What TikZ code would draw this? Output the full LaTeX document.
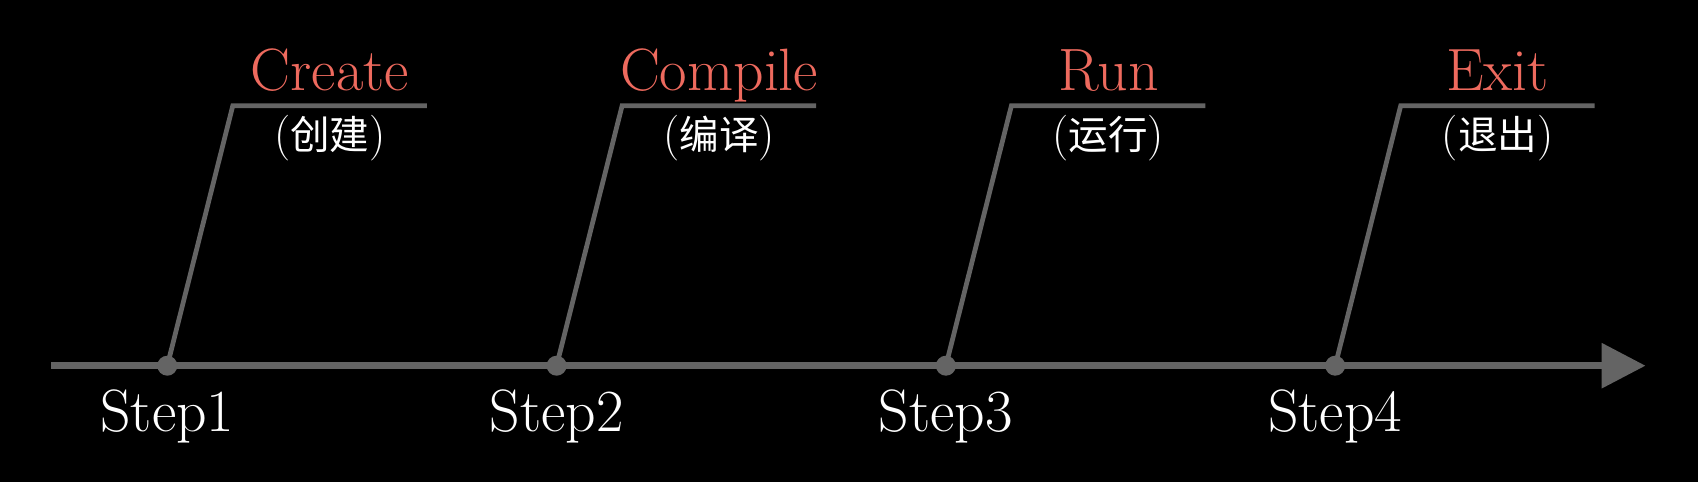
\documentclass[tikz,border=0pt]{standalone}
\usepackage{fontspec}
\newfontfamily\cjk{Noto Sans CJK SC}
\usepackage{tikz}
\usetikzlibrary{arrows.meta,positioning,calc}
\definecolor{linegray}{HTML}{646464}
\definecolor{labelred}{HTML}{EE6A5E}

\begin{document}
\begin{tikzpicture}[
    axis/.style={draw=linegray, line width=3.8pt, -{Triangle[length=0.88cm, width=0.88cm]}},
    leader/.style={draw=linegray, line width=2.7pt, line join=miter},
    dot/.style={circle, fill=linegray, inner sep=0pt, minimum size=0.4cm},
    title/.style={text=labelred, anchor=base, font=\fontsize{34}{40}\selectfont},
    subtitle/.style={text=white, anchor=base, font=\fontsize{26}{30}\selectfont},
    steplabel/.style={text=white, anchor=base, font=\fontsize{34}{40}\selectfont}
]
\fill[black] (0,0) rectangle (33.96,9.64);
\useasboundingbox (0,0) rectangle (33.96,9.64);

% Time axis
\coordinate (start) at (1.02,2.326);
\coordinate (end) at (32.91,2.326);
\draw[axis] (start) -- (end);

% Step points
\node[dot] (s1) at (3.346,2.326) {};
\node[dot, on grid, right=7.786cm of s1] (s2) {};
\node[dot, on grid, right=7.786cm of s2] (s3) {};
\node[dot, on grid, right=7.786cm of s3] (s4) {};

% Leader corners
\coordinate (t1) at ($(s1)+(1.31,5.2)$);
\coordinate (e1) at ($(t1)+(3.88,0)$);
\coordinate (t2) at ($(s2)+(1.31,5.2)$);
\coordinate (e2) at ($(t2)+(3.88,0)$);
\coordinate (t3) at ($(s3)+(1.31,5.2)$);
\coordinate (e3) at ($(t3)+(3.88,0)$);
\coordinate (t4) at ($(s4)+(1.31,5.2)$);
\coordinate (e4) at ($(t4)+(3.88,0)$);

% Leaders
\draw[leader] (s1.center) -- (t1) -- (e1);
\draw[leader] (s2.center) -- (t2) -- (e2);
\draw[leader] (s3.center) -- (t3) -- (e3);
\draw[leader] (s4.center) -- (t4) -- (e4);

% Titles
\node[title] (create) at ($(t1)!0.5!(e1)+(0,0.3)$) {Create};
\node[title] (compile) at ($(t2)!0.5!(e2)+(0,0.3)$) {Compile};
\node[title] (run) at ($(t3)!0.5!(e3)+(0,0.3)$) {Run};
\node[title] (exit) at ($(t4)!0.5!(e4)+(0,0.3)$) {Exit};

% Chinese names
\node[subtitle] (createzh) at ($(t1)!0.5!(e1)+(0,-0.88)$) {({\cjk\fontsize{22.5}{26}\selectfont 创建})};
\node[subtitle] (compilezh) at ($(t2)!0.5!(e2)+(0,-0.88)$) {({\cjk\fontsize{22.5}{26}\selectfont 编译})};
\node[subtitle] (runzh) at ($(t3)!0.5!(e3)+(0,-0.88)$) {({\cjk\fontsize{22.5}{26}\selectfont 运行})};
\node[subtitle] (exitzh) at ($(t4)!0.5!(e4)+(0,-0.88)$) {({\cjk\fontsize{22.5}{26}\selectfont 退出})};

% Step labels
\node[steplabel] (step1) at ($(s1)+(0,-1.32)$) {Step1};
\node[steplabel] (step2) at ($(s2)+(0,-1.32)$) {Step2};
\node[steplabel] (step3) at ($(s3)+(0,-1.32)$) {Step3};
\node[steplabel] (step4) at ($(s4)+(0,-1.32)$) {Step4};

\end{tikzpicture}
\end{document}
